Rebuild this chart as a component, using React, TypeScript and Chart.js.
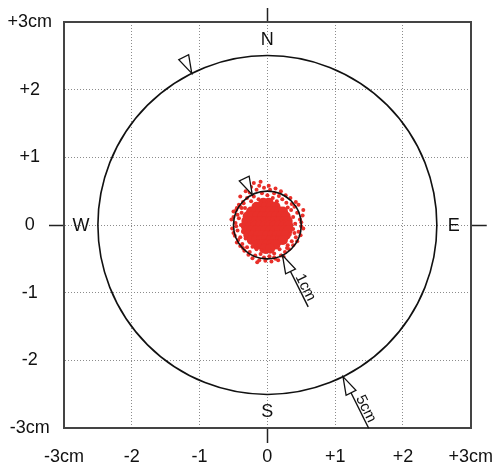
import React, { useEffect, useRef } from 'react';
import { Chart, registerables } from 'chart.js';

Chart.register(...registerables);

// ---- axis ticks ----
const tickValues = [-3, -2, -1, 0, 1, 2, 3];
const xTickLabels = ['-3cm', '-2', '-1', '0', '+1', '+2', '+3cm'];
const yTickLabels = ['-3cm', '-2', '-1', '0', '+1', '+2', '+3cm'];

// ---- reference circles (radius, cm) ----
const circleRadii = [2.5, 0.5];
const circleLabels = ['5cm', '1cm'];
const arrowOuterRadii = [3.35, 1.35];
const arrowAngleDeg = -63.5;

// ---- compass ----
const compassLabels = ['N', 'E', 'S', 'W'];
const compassOffset = 2.75;

// ---- shot cloud (cm) ----
const cloudCore: [number, number][] = [
  [-0.06, 0.33], [0.02, 0.33],
  [-0.16, 0.27], [-0.09, 0.27], [-0.02, 0.27], [0.05, 0.27], [0.12, 0.27],
  [-0.24, 0.20], [-0.17, 0.20], [-0.10, 0.20], [-0.03, 0.20], [0.04, 0.20], [0.11, 0.20], [0.18, 0.20], [0.23, 0.20],
  [-0.29, 0.13], [-0.22, 0.13], [-0.15, 0.13], [-0.08, 0.13], [-0.01, 0.13], [0.06, 0.13], [0.13, 0.13], [0.20, 0.13], [0.27, 0.13],
  [-0.31, 0.06], [-0.24, 0.06], [-0.17, 0.06], [-0.10, 0.06], [-0.03, 0.06], [0.04, 0.06], [0.11, 0.06], [0.18, 0.06], [0.25, 0.06], [0.30, 0.06],
  [-0.32, -0.01], [-0.25, -0.01], [-0.18, -0.01], [-0.11, -0.01], [-0.04, -0.01], [0.03, -0.01], [0.10, -0.01], [0.17, -0.01], [0.24, -0.01], [0.31, -0.01],
  [-0.31, -0.08], [-0.24, -0.08], [-0.17, -0.08], [-0.10, -0.08], [-0.03, -0.08], [0.04, -0.08], [0.11, -0.08], [0.18, -0.08], [0.25, -0.08], [0.30, -0.08],
  [-0.28, -0.15], [-0.21, -0.15], [-0.14, -0.15], [-0.07, -0.15], [0.00, -0.15], [0.07, -0.15], [0.14, -0.15], [0.21, -0.15], [0.27, -0.15],
  [-0.23, -0.22], [-0.16, -0.22], [-0.09, -0.22], [-0.02, -0.22], [0.05, -0.22], [0.12, -0.22], [0.19, -0.22], [0.23, -0.22],
  [-0.15, -0.29], [-0.08, -0.29], [-0.01, -0.29], [0.06, -0.29], [0.12, -0.29],
  [-0.04, -0.35], [0.04, -0.35],
];

const cloudSpray: [number, number][] = [
  [-0.20, 0.62], [-0.12, 0.58], [-0.05, 0.55], [-0.16, 0.52], [0.04, 0.52], [-0.26, 0.48], [0.10, 0.47],
  [-0.08, 0.47], [0.00, 0.44], [0.17, 0.43], [-0.20, 0.42], [-0.30, 0.40], [0.08, 0.40], [0.22, 0.38],
  [-0.13, 0.38], [-0.05, 0.36], [0.14, 0.35], [-0.24, 0.35], [0.28, 0.33], [-0.35, 0.32],
  [-0.40, 0.27], [-0.33, 0.25], [-0.46, 0.22], [-0.38, 0.18], [-0.50, 0.12], [-0.42, 0.10],
  [-0.47, 0.03], [-0.39, 0.00], [-0.52, -0.05], [-0.44, -0.08], [-0.36, -0.10],
  [-0.48, -0.16], [-0.40, -0.18], [-0.32, -0.20], [-0.45, -0.26], [-0.37, -0.28],
  [-0.30, -0.33], [-0.22, -0.32], [-0.26, -0.40], [-0.16, -0.36], [-0.18, -0.45], [-0.09, -0.37], [-0.10, -0.43],
  [-0.02, -0.40], [-0.05, -0.48], [0.05, -0.38], [0.03, -0.46], [0.10, -0.42], [0.12, -0.50], [0.18, -0.36],
  [0.20, -0.45], [0.26, -0.40], [-0.12, -0.52], [0.06, -0.54],
  [0.30, -0.30], [0.36, -0.24], [0.42, -0.18], [0.33, -0.14], [0.46, -0.10], [0.38, -0.06],
  [0.50, -0.02], [0.41, 0.02], [0.48, 0.08], [0.38, 0.12], [0.44, 0.18], [0.35, 0.22], [0.40, 0.27],
  [0.30, 0.26], [0.52, 0.14], [0.46, 0.30],
  [-0.36, 0.34], [-0.42, 0.30], [-0.45, 0.25], [-0.50, 0.20], [-0.44, 0.15], [-0.53, 0.08], [-0.46, -0.02],
  [-0.50, -0.12], [-0.43, -0.22], [-0.40, -0.31], [-0.34, -0.38], [-0.28, -0.44], [-0.22, -0.49], [-0.15, -0.55],
  [-0.03, -0.53], [0.10, -0.48], [0.16, -0.52], [0.24, -0.47], [0.32, -0.36], [0.38, -0.30], [0.44, -0.24],
  [0.49, -0.15], [0.53, -0.05], [0.50, 0.04], [0.53, 0.22], [0.42, 0.34], [0.34, 0.40], [0.27, 0.44],
  [0.20, 0.50], [0.12, 0.54], [0.02, 0.58], [-0.10, 0.64], [-0.24, 0.56], [-0.32, 0.50], [-0.40, 0.42],
  [0.36, 0.31], [-0.36, -0.34], [0.29, -0.34], [-0.38, 0.25], [0.40, -0.12],
];

const RED = '#e8302a';
const FONT = "'Liberation Sans', Arial, Helvetica, sans-serif";
const INK = '#111111';
const FRAME = '#444444';

const overlayPlugin = {
  id: 'targetOverlay',
  afterDatasetsDraw(chart: any) {
    const { ctx } = chart;
    const xs = chart.scales.x;
    const ys = chart.scales.y;
    const cx = xs.getPixelForValue(0);
    const cy = ys.getPixelForValue(0);
    const unit = (xs.getPixelForValue(1) - xs.getPixelForValue(-1)) / 2;
    ctx.save();

    ctx.strokeStyle = INK;
    ctx.lineWidth = 1.6;
    circleRadii.forEach((r) => {
      ctx.beginPath();
      ctx.arc(cx, cy, r * unit, 0, Math.PI * 2);
      ctx.stroke();
    });

    const a = (arrowAngleDeg * Math.PI) / 180;
    const ux = Math.cos(a);
    const uy = -Math.sin(a);
    const triLen = 18;
    const triHalf = 5.5;

    const tri = (tx: number, ty: number, dx: number, dy: number) => {
      const bx = tx + dx * triLen;
      const by = ty + dy * triLen;
      const pxp = -dy;
      const pyp = dx;
      ctx.beginPath();
      ctx.moveTo(tx, ty);
      ctx.lineTo(bx + pxp * triHalf, by + pyp * triHalf);
      ctx.lineTo(bx - pxp * triHalf, by - pyp * triHalf);
      ctx.closePath();
      ctx.fillStyle = '#ffffff';
      ctx.fill();
      ctx.lineWidth = 1.3;
      ctx.strokeStyle = INK;
      ctx.stroke();
    };

    circleRadii.forEach((r, i) => {
      const tx = cx + ux * r * unit;
      const ty = cy + uy * r * unit;
      const ex = cx + ux * arrowOuterRadii[i] * unit;
      const ey = cy + uy * arrowOuterRadii[i] * unit;
      ctx.beginPath();
      ctx.moveTo(tx + ux * triLen, ty + uy * triLen);
      ctx.lineTo(ex, ey);
      ctx.lineWidth = 1.4;
      ctx.strokeStyle = INK;
      ctx.stroke();
      tri(tx, ty, ux, uy);
      const ox = cx - ux * r * unit;
      const oy = cy - uy * r * unit;
      tri(ox, oy, -ux, -uy);
      ctx.save();
      ctx.translate(tx + ux * 39, ty + uy * 39);
      ctx.rotate(Math.atan2(uy, ux));
      ctx.font = `15px ${FONT}`;
      ctx.fillStyle = INK;
      ctx.textAlign = 'center';
      ctx.textBaseline = 'alphabetic';
      ctx.fillText(circleLabels[i], 0, -2);
      ctx.restore();
    });

    ctx.font = `18px ${FONT}`;
    ctx.fillStyle = INK;
    ctx.textAlign = 'center';
    ctx.textBaseline = 'middle';
    const pos: Record<string, [number, number]> = {
      N: [0, compassOffset],
      E: [compassOffset, 0],
      S: [0, -compassOffset],
      W: [-compassOffset, 0],
    };
    compassLabels.forEach((l) => {
      const [vx, vy] = pos[l];
      ctx.fillText(l, xs.getPixelForValue(vx), ys.getPixelForValue(vy) + 1);
    });

    ctx.restore();
  },
};

const tickOnlyAtZero = (c: any) => (c.tick && c.tick.value === 0 ? '#222222' : 'rgba(0,0,0,0)');
const gridColor = (c: any) => (c.tick && Math.abs(c.tick.value) === 3 ? 'rgba(0,0,0,0)' : '#8c8c8c');

export default function App() {
  const ref = useRef<HTMLCanvasElement | null>(null);

  useEffect(() => {
    if (!ref.current) return;
    const chart = new Chart(ref.current, {
      type: 'scatter',
      data: {
        datasets: [
          {
            label: 'spray',
            data: cloudSpray.map(([x, y]) => ({ x, y })),
            backgroundColor: RED,
            borderWidth: 0,
            pointRadius: 2,
            xAxisID: 'x',
            yAxisID: 'y',
          },
          {
            label: 'core',
            data: cloudCore.map(([x, y]) => ({ x, y })),
            backgroundColor: RED,
            borderWidth: 0,
            pointRadius: 5,
            xAxisID: 'x',
            yAxisID: 'y',
          },
        ],
      },
      options: {
        responsive: false,
        animation: false,
        events: [],
        layout: { padding: 0 },
        plugins: { legend: { display: false }, tooltip: { enabled: false } },
        scales: {
          x: {
            type: 'linear',
            position: 'bottom',
            min: -3,
            max: 3,
            afterBuildTicks: (s: any) => {
              s.ticks = tickValues.map((v) => ({ value: v }));
            },
            ticks: {
              callback: (v: any) => xTickLabels[tickValues.indexOf(Number(v))],
              font: { family: FONT, size: 18 },
              color: INK,
              padding: 3,
              maxRotation: 0,
              autoSkip: false,
            },
            grid: {
              color: gridColor,
              lineWidth: 1,
              tickLength: 15,
              tickColor: tickOnlyAtZero,
              tickWidth: 1.5,
            },
            border: { color: FRAME, width: 2, dash: [1, 2] },
            afterFit: (s: any) => {
              s.height = 37;
            },
          },
          y: {
            type: 'linear',
            position: 'left',
            min: -3,
            max: 3,
            afterBuildTicks: (s: any) => {
              s.ticks = tickValues.map((v) => ({ value: v }));
            },
            ticks: {
              callback: (v: any) => yTickLabels[tickValues.indexOf(Number(v))],
              font: { family: FONT, size: 18 },
              color: INK,
              padding: -3,
              crossAlign: 'center',
              autoSkip: false,
            },
            grid: {
              color: gridColor,
              lineWidth: 1,
              tickLength: 15,
              tickColor: tickOnlyAtZero,
              tickWidth: 1.5,
            },
            border: { color: FRAME, width: 2, dash: [1, 2] },
            afterFit: (s: any) => {
              s.width = 64;
            },
          },
          x2: {
            type: 'linear',
            position: 'top',
            min: -3,
            max: 3,
            afterBuildTicks: (s: any) => {
              s.ticks = tickValues.map((v) => ({ value: v }));
            },
            ticks: { display: false },
            grid: {
              drawOnChartArea: false,
              tickLength: 14,
              tickColor: tickOnlyAtZero,
              tickWidth: 1.5,
            },
            border: { color: FRAME, width: 2 },
            afterFit: (s: any) => {
              s.height = 22;
            },
          },
          y2: {
            type: 'linear',
            position: 'right',
            min: -3,
            max: 3,
            afterBuildTicks: (s: any) => {
              s.ticks = tickValues.map((v) => ({ value: v }));
            },
            ticks: { display: false },
            grid: {
              drawOnChartArea: false,
              tickLength: 16,
              tickColor: tickOnlyAtZero,
              tickWidth: 1.5,
            },
            border: { color: FRAME, width: 2 },
            afterFit: (s: any) => {
              s.width = 24;
            },
          },
        },
      } as any,
      plugins: [overlayPlugin],
    });
    return () => chart.destroy();
  }, []);

  return (
    <div style={{ position: 'fixed', left: 0, top: 0, width: 496, height: 465, background: '#ffffff' }}>
      <canvas ref={ref} width={496} height={465} style={{ display: 'block' }} />
    </div>
  );
}
